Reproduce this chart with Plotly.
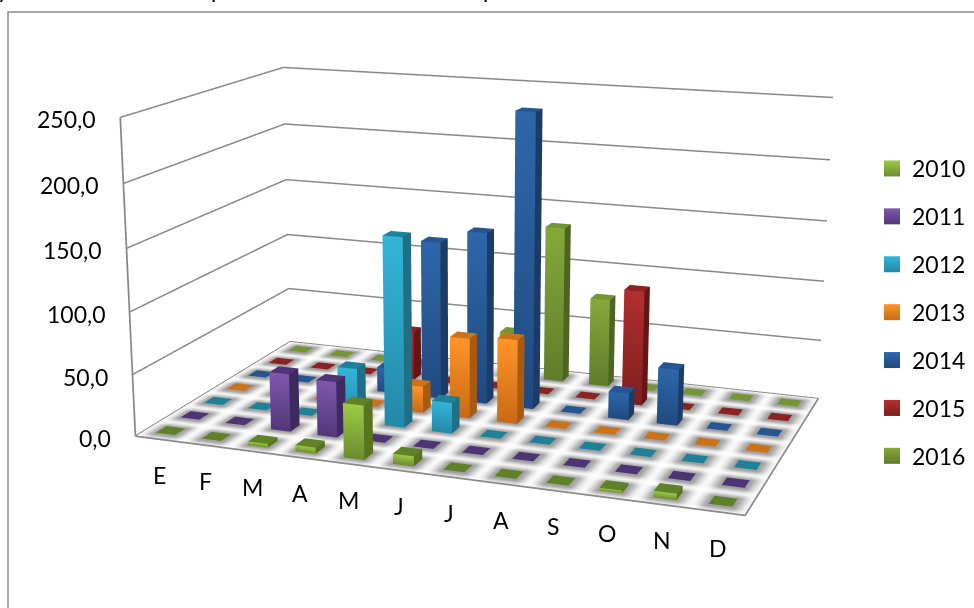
import numpy as np
import plotly.graph_objects as go

months = ["E", "F", "M", "A", "M", "J", "J", "A", "S", "O", "N", "D"]
years = ["2010", "2011", "2012", "2013", "2014", "2015", "2016"]
v2010 = [0, 0, 3, 5, 43, 8, 0, 0, 0, 2, 5, 0]
v2011 = [0, 0, 47, 45, 0, 0, 0, 0, 0, 0, 0, 0]
v2012 = [0, 0, 0, 44, 154, 25, 0, 0, 0, 0, 0, 0]
v2013 = [0, 0, 0, 0, 22, 66, 69, 0, 0, 0, 0, 0]
v2014 = [0, 0, 0, 21, 132, 143, 243, 0, 22, 46, 0, 0]
v2015 = [0, 0, 0, 42, 0, 0, 0, 0, 96, 0, 0, 0]
v2016 = [0, 0, 0, 0, 0, 38, 133, 75, 0, 0, 0, 0]
series = [v2010, v2011, v2012, v2013, v2014, v2015, v2016]
z_ticks = [0, 50, 100, 150, 200, 250]

# light front, dark front, side, top
palette = [
    ("#9ccb46", "#6c8c2f", "#57751f", "#5f8228"),
    ("#8058ab", "#52377a", "#3f2a5f", "#4d3475"),
    ("#33b5d8", "#2488a8", "#1f6f85", "#1f8098"),
    ("#ff9429", "#c96a15", "#a85a12", "#cc7218"),
    ("#2f66aa", "#1f4a80", "#1b3c66", "#255692"),
    ("#b22f2f", "#7f1e1e", "#641616", "#8e2222"),
    ("#86a83a", "#5f7d2c", "#4c6522", "#739534"),
]

W, H = 974, 608

# Plotly's 3D view has a fixed field of view, so the scene is laid out larger than
# the window and offset to obtain a long focal length.
FH = 1584
FW = 1012
LEFT = -38
TOP = -494
EYE = dict(x=1.0229, y=-2.8498, z=0.7561)
CENTER = dict(x=-0.0687, y=0.0945, z=-0.0853)
ASPECT = dict(x=1, y=0.5797, z=0.5206)
BAR = 0.42
LABEL_FONT = dict(family="Lato", size=23, color="black")
FLAT = dict(ambient=1, diffuse=0, specular=0, roughness=1, fresnel=0)


def px(x):
    return (x - LEFT) / FW


def py(y):
    return 1 - (y - TOP) / FH


fig = go.Figure()

# floor with soft shading around each cell
gx = np.linspace(0, 12, 361)
gy = np.linspace(0, 7, 281)
X, Y = np.meshgrid(gx, gy)
dx = np.maximum(np.abs((X % 1) - 0.5) - BAR / 2, 0)
dy = np.maximum(np.abs((Y % 1) - 0.5) - BAR / 2, 0)
shade = np.exp(-(np.hypot(dx / 0.17, dy / 0.2) ** 2))
fig.add_trace(go.Surface(x=gx, y=gy, z=np.zeros_like(X), surfacecolor=shade, cmin=0, cmax=1,
                         colorscale=[[0, "#ffffff"], [1, "#a0a0a0"]], showscale=False, hoverinfo="skip",
                         lighting=FLAT))


def bars(values, row, cols):
    light, dark, side, top = cols
    xs, ys, zs, I, J, K, vc = [], [], [], [], [], [], []

    def quad(pts, colours):
        n = len(xs)
        for (a, b, c), col in zip(pts, colours):
            xs.append(a)
            ys.append(b)
            zs.append(c)
            vc.append(col)
        I.extend([n, n])
        J.extend([n + 1, n + 2])
        K.extend([n + 2, n + 3])

    y0, y1 = row + 0.5 - BAR / 2, row + 0.5 + BAR / 2
    for m, v in enumerate(values):
        x0, x1 = m + 0.5 - BAR / 2, m + 0.5 + BAR / 2
        h = max(v, 0.6)  # empty cells still show a flat tile above the floor
        quad([(x0, y0, h), (x1, y0, h), (x1, y1, h), (x0, y1, h)], [top] * 4)
        if v > 0:
            quad([(x0, y0, 0), (x1, y0, 0), (x1, y0, h), (x0, y0, h)], [dark, dark, light, light])
            quad([(x1, y0, 0), (x1, y1, 0), (x1, y1, h), (x1, y0, h)], [side] * 4)
    return go.Mesh3d(x=xs, y=ys, z=zs, i=I, j=J, k=K, vertexcolor=vc, flatshading=True,
                     lighting=FLAT, hoverinfo="skip", showlegend=False)


for row, (vals, cols) in enumerate(zip(series, palette)):
    fig.add_trace(bars(vals, row, cols))

# floor outline, wall edge and gridlines along both walls
fig.add_trace(go.Scatter3d(x=[0, 12, 12, 0, 0, 0], y=[0, 0, 7, 7, 0, 0], z=[0, 0, 0, 0, 0, 250], mode="lines",
                           line=dict(color="#888888", width=3.5), hoverinfo="skip", showlegend=False))
for t in z_ticks:
    fig.add_trace(go.Scatter3d(x=[0, 0, 12], y=[0, 7, 7], z=[t, t, t], mode="lines",
                               line=dict(color="#888888", width=3), hoverinfo="skip", showlegend=False))

# legend entries
for name, cols in zip(years, palette):
    fig.add_trace(go.Scatter(x=[None], y=[None], mode="markers", name=name, legendgroup=name,
                             marker=dict(symbol="square", size=16, color=cols[0],
                                         gradient=dict(type="vertical", color=cols[1]))))

scene_labels = [dict(x=i + 0.5, y=0, z=0, text=m, showarrow=False, xshift=1, yshift=-36, font=LABEL_FONT)
                for i, m in enumerate(months)]
scene_labels += [dict(x=0, y=0, z=t, text=f"{t},0", showarrow=False, xanchor="right", xshift=-22, yshift=-2,
                      font=LABEL_FONT) for t in z_ticks]

axis_off = dict(showbackground=False, showgrid=False, zeroline=False, showline=False, showspikes=False,
                title="", showticklabels=False, ticks="")

# heading above the frame, cut off by the top edge of the page
title_bits = [("y", 3), ("p", 217), ("p", 489)]

fig.update_layout(
    width=FW, height=FH, margin=dict(l=0, r=0, t=0, b=0), paper_bgcolor="white", plot_bgcolor="rgba(0,0,0,0)",
    font=LABEL_FONT,
    xaxis=dict(visible=False), yaxis=dict(visible=False),
    legend=dict(x=px(872), y=py(147), xanchor="left", yanchor="top", tracegroupgap=15,
                font=LABEL_FONT, bgcolor="rgba(0,0,0,0)"),
    scene=dict(
        domain=dict(x=[0, 1], y=[0, 1]),
        aspectmode="manual", aspectratio=ASPECT,
        camera=dict(eye=EYE, center=CENTER, up=dict(x=0, y=0, z=1), projection=dict(type="perspective")),
        xaxis=dict(axis_off, range=[0, 12]),
        yaxis=dict(axis_off, range=[0, 7]),
        zaxis=dict(axis_off, range=[0, 250]),
        annotations=scene_labels,
    ),
    shapes=[dict(type="rect", xref="paper", yref="paper", x0=px(8), x1=1.02, y0=-0.05, y1=py(12),
                 line=dict(color="#8c8c8c", width=1.5))],
    annotations=[dict(text=t, xref="paper", yref="paper", x=px(x), y=py(5), xanchor="center", yanchor="bottom",
                      showarrow=False, font=LABEL_FONT) for t, x in title_bits],
)
page_setup = ("document.documentElement.style.overflow='hidden';document.body.style.overflow='hidden';"
              "var gd=document.getElementById('{plot_id}');"
              f"gd.style.marginTop='{TOP}px';gd.style.marginLeft='{LEFT}px';")
fig.write_html("out.html", post_script=page_setup)
